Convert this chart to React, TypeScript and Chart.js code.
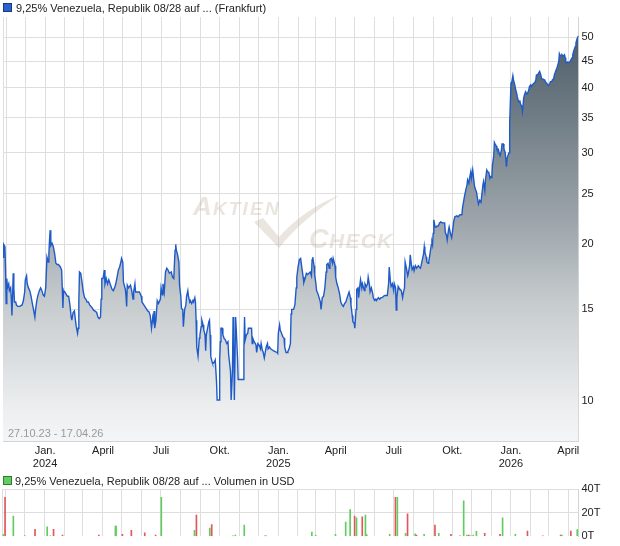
import React, { useEffect, useRef } from "react";
import { Chart, registerables } from "chart.js";

Chart.register(...registerables);

// Quote window: 27.10.2023 - 17.04.2026
const FIRST_DATE = Date.UTC(2023, 9, 27);
const LAST_DATE = Date.UTC(2026, 3, 17);
const DAY_MS = 86400000;
const RANGE_DAYS = (LAST_DATE - FIRST_DATE) / DAY_MS;

const legendTitle = "9,25% Venezuela, Republik 08/28 auf ... (Frankfurt)";
const volumeTitle = "9,25% Venezuela, Republik 08/28 auf ... Volumen in USD";
const periodLabel = "27.10.23 - 17.04.26";

// Price quotes: days counted from 27.10.2023, and closing price
const priceDays = [
  0, 1, 3, 4, 5, 6, 7, 9, 10, 12, 13, 14, 15, 16, 17, 18, 20, 21, 23, 26, 30, 32, 34, 35, 37, 38, 40, 42, 44, 46,
  48, 50, 51, 53, 55, 57, 59, 61, 63, 65, 67, 69, 71, 72, 73, 74, 75, 77, 79, 81, 83, 85, 87, 90, 92, 93, 94, 95, 97, 101,
  103, 105, 107, 108, 110, 112, 114, 115, 117, 118, 119, 120, 122, 124, 126, 128, 130, 132, 134, 136, 138, 140, 142, 144, 147, 149, 151, 153, 154, 155,
  157, 159, 160, 162, 164, 166, 168, 171, 173, 175, 177, 179, 181, 183, 185, 186, 188, 189, 192, 193, 194, 195, 197, 200, 202, 204, 205, 207, 208, 210,
  212, 214, 217, 218, 221, 224, 227, 229, 231, 233, 235, 236, 237, 238, 240, 242, 244, 247, 248, 250, 251, 253, 255, 257, 259, 261, 264, 266, 268, 269,
  270, 271, 272, 274, 276, 277, 279, 280, 282, 283, 285, 287, 288, 290, 291, 293, 294, 296, 298, 299, 301, 302, 303, 304, 306, 308, 309, 311, 312, 314,
  315, 317, 318, 319, 321, 323, 324, 325, 326, 328, 329, 331, 333, 335, 336, 339, 340, 341, 342, 344, 345, 347, 349, 351, 353, 354, 355, 357, 358, 359,
  360, 361, 362, 363, 364, 365, 366, 368, 369, 372, 375, 377, 378, 379, 380, 382, 384, 385, 388, 390, 391, 392, 394, 396, 397, 398, 400, 402, 404, 405,
  407, 408, 410, 412, 413, 415, 416, 418, 420, 422, 424, 427, 430, 431, 432, 434, 435, 437, 439, 441, 442, 444, 446, 447, 449, 451, 452, 453, 456, 458,
  460, 461, 463, 465, 467, 469, 471, 472, 474, 476, 478, 480, 482, 484, 485, 486, 488, 489, 491, 492, 494, 496, 498, 499, 501, 503, 505, 507, 508, 510,
  512, 513, 515, 517, 518, 521, 522, 524, 526, 528, 530, 532, 534, 536, 538, 540, 543, 545, 546, 548, 549, 551, 552, 554, 555, 557, 558, 560, 561, 563,
  564, 567, 568, 570, 572, 573, 575, 576, 578, 580, 581, 583, 585, 586, 589, 591, 593, 595, 597, 599, 601, 603, 605, 606, 608, 609, 611, 613, 614, 616,
  617, 618, 620, 621, 623, 625, 627, 628, 630, 631, 633, 635, 636, 638, 639, 641, 642, 644, 645, 647, 649, 650, 652, 653, 655, 656, 658, 660, 661, 662,
  664, 665, 667, 668, 670, 672, 673, 674, 675, 676, 678, 680, 681, 683, 685, 687, 689, 691, 693, 694, 696, 697, 699, 700, 702, 704, 706, 707, 709, 712,
  714, 717, 720, 721, 723, 724, 726, 728, 729, 731, 732, 734, 735, 737, 739, 740, 742, 743, 745, 746, 748, 750, 751, 753, 754, 756, 757, 759, 761, 762,
  764, 765, 767, 768, 770, 771, 772, 774, 775, 777, 779, 780, 782, 783, 785, 786, 788, 790, 791, 793, 794, 795, 797, 798, 800, 801, 803, 804, 806, 807,
  809, 811, 812, 814, 815, 817, 818, 820, 822, 823, 825, 826, 828, 829, 831, 833, 834, 836, 837, 839, 840, 842, 844, 845, 847, 848, 850, 851, 853, 855,
  856, 858, 859, 861, 862, 864, 865, 867, 869, 870, 872, 873, 874, 876, 877, 879, 881, 882, 883, 885, 886, 888, 890, 891, 893, 894, 896, 898, 899, 901,
  903,
];
const priceValues = [
  18.9, 20.0, 19.8, 17.85, 15.4, 17.2, 16.5, 16.8, 16.3, 16.5, 15.8, 14.6, 15.8, 17.6, 16.5, 15.5, 15.5, 15.3, 15.2, 15.2, 15.3, 15.6, 16.2, 17.1, 17.4, 16.8, 16.5, 16.3, 15.9, 15.4,
  14.95, 14.5, 14.95, 15.6, 16.0, 16.3, 16.5, 16.3, 16.0, 15.9, 16.5, 18.9, 18.5, 19.2, 20.4, 21.3, 19.9, 20.1, 19.8, 19.2, 18.4, 18.3, 18.3, 18.1, 17.85, 16.5, 15.1, 16.3, 16.2, 15.9,
  15.9, 15.3, 14.5, 14.3, 14.8, 14.9, 14.2, 13.9, 13.5, 13.8, 15.6, 17.7, 17.6, 16.9, 16.2, 15.8, 15.7, 15.5, 15.5, 15.3, 15.2, 15.1, 14.95, 14.9, 14.8, 14.5, 14.4, 14.5, 15.7, 17.2,
  17.2, 17.85, 16.8, 17.2, 16.8, 17.1, 16.8, 16.4, 16.3, 16.5, 16.8, 17.3, 17.85, 18.1, 18.5, 18.8, 18.5, 16.9, 16.4, 15.9, 15.2, 16.7, 16.5, 16.7, 16.3, 15.7, 16.2, 16.8, 16.2, 16.2,
  16.2, 16.2, 15.9, 15.5, 15.3, 15.1, 14.9, 14.85, 14.6, 13.8, 14.5, 14.3, 14.9, 13.8, 14.3, 15.6, 15.4, 15.7, 16.5, 16.0, 16.8, 16.2, 17.7, 18.0, 17.85, 17.6, 17.7, 17.3, 17.2, 18.4,
  19.5, 20.0, 19.5, 19.1, 18.5, 16.7, 15.9, 15.05, 15.0, 13.9, 15.0, 15.3, 15.9, 16.3, 15.9, 15.5, 15.6, 15.4, 15.6, 15.5, 15.8, 15.5, 14.3, 12.7, 12.2, 13.2, 13.4, 13.9, 14.3, 14.0,
  13.7, 13.4, 12.5, 13.4, 13.8, 14.2, 14.3, 13.4, 12.2, 11.9, 11.8, 11.85, 12.0, 10.9, 10.05, 10.05, 12.0, 13.0, 13.8, 13.8, 13.4, 13.2, 13.1, 12.9, 13.0, 12.3, 12.0, 11.4, 10.05, 10.05,
  11.4, 14.5, 13.0, 10.05, 10.05, 14.5, 13.7, 12.1, 11.0, 11.0, 11.0, 11.0, 12.6, 14.5, 13.1, 13.4, 13.5, 13.8, 13.8, 13.8, 12.9, 13.2, 13.0, 12.9, 12.8, 12.4, 12.9, 12.8, 12.6, 12.9,
  12.5, 12.45, 12.1, 12.5, 12.7, 12.9, 12.6, 12.7, 12.6, 12.55, 12.5, 12.45, 12.4, 12.35, 13.5, 14.0, 13.7, 13.5, 13.3, 13.2, 12.7, 12.4, 12.4, 12.45, 12.6, 12.9, 14.7, 15.0, 15.0, 15.3,
  16.5, 17.3, 18.1, 18.7, 18.8, 18.0, 17.3, 16.9, 17.2, 17.6, 17.5, 17.6, 17.7, 17.4, 18.7, 18.9, 18.2, 17.5, 16.8, 16.3, 16.1, 15.8, 15.5, 15.0, 15.8, 15.9, 16.5, 17.7, 18.3, 18.4,
  18.0, 18.7, 18.8, 18.4, 18.8, 18.2, 17.3, 16.8, 16.5, 16.1, 15.5, 15.3, 15.2, 15.4, 15.5, 15.8, 16.2, 15.8, 15.3, 14.6, 14.2, 14.1, 13.8, 15.0, 16.4, 16.5, 15.8, 16.7, 17.1, 16.5,
  16.8, 16.3, 16.8, 16.6, 16.8, 17.3, 16.7, 16.2, 16.5, 16.1, 15.8, 15.6, 15.7, 15.6, 15.8, 15.7, 15.8, 15.8, 15.9, 15.95, 15.95, 15.95, 16.8, 18.1, 16.9, 16.6, 16.8, 16.3, 16.8, 16.5,
  14.95, 15.8, 16.6, 16.5, 16.4, 16.3, 15.8, 16.1, 16.5, 18.5, 18.0, 17.4, 17.6, 18.2, 19.1, 18.2, 17.9, 18.1, 17.8, 18.2, 18.0, 18.1, 18.2, 18.1, 18.0, 18.2, 18.7, 19.2, 19.8, 19.3,
  18.9, 18.5, 18.4, 18.5, 19.2, 19.95, 20.2, 19.95, 21.0, 22.3, 21.6, 21.6, 21.7, 21.7, 22.0, 22.1, 22.0, 22.0, 22.0, 21.1, 20.8, 20.4, 21.3, 21.6, 21.0, 20.6, 21.5, 22.1, 22.6, 22.7,
  22.6, 22.8, 22.8, 23.5, 24.3, 24.7, 25.4, 26.0, 26.6, 26.2, 26.8, 27.6, 26.8, 27.8, 26.4, 25.8, 25.4, 25.2, 24.3, 23.9, 24.3, 24.1, 24.7, 26.0, 26.4, 25.4, 26.6, 27.8, 27.5, 27.6,
  26.8, 27.0, 26.9, 28.4, 29.6, 31.4, 31.2, 30.9, 30.5, 30.5, 29.8, 29.6, 30.3, 31.2, 31.2, 30.5, 30.0, 28.2, 29.3, 29.8, 30.0, 34.2, 40.8, 40.8, 42.2, 41.4, 40.5, 39.9, 39.0, 38.4,
  37.6, 37.7, 37.2, 36.8, 36.0, 38.2, 38.7, 39.3, 38.9, 39.0, 39.6, 40.2, 40.5, 40.2, 40.6, 40.8, 40.8, 41.4, 42.3, 42.4, 42.6, 43.0, 42.3, 41.6, 41.6, 41.5, 41.4, 41.1, 40.8, 40.5,
  40.4, 40.8, 41.1, 41.1, 41.4, 41.6, 42.3, 43.0, 43.6, 44.0, 44.9, 46.5, 46.2, 46.0, 46.3, 46.0, 46.3, 45.7, 44.7, 44.7, 44.8, 44.7, 45.0, 45.0, 45.7, 46.3, 47.3, 48.0, 48.8, 49.8,
  50.3,
];

// Turnover in thousand USD, with the day it was traded and whether the day closed up (1) or down (0)
const volumeDays = [
  1, 4, 17, 35, 51, 70, 75, 80, 94, 151, 177, 178, 188, 202, 223, 240, 249, 301, 304, 325, 328, 361, 365, 379, 411,
  413, 485, 491, 522, 538, 545, 552, 555, 564, 569, 571, 607, 616, 619, 632, 635, 647, 649, 661, 678, 684, 703, 717, 723, 728,
  731, 734, 738, 743, 756, 780, 784, 804, 823, 847, 875, 877, 891, 901,
];
const volumeValues = [
  1.7, 33, 17, 0.3, 6, 8, 0.4, 6, 1, 1, 8.7, 8.7, 1.7, 5, 3, 1, 33, 5, 18, 7, 10, 0.5, 1, 9.5, 0.4,
  0.4, 3.5, 0.8, 1.7, 12, 22.6, 17, 15.6, 16.5, 18, 1.5, 1.7, 33, 33, 2.6, 19, 2, 1, 1.7, 9.5, 2.6, 1.7, 0.4, 30, 1,
  1, 0.5, 1, 4.3, 2.6, 1.7, 15.6, 1.7, 4.5, 0.4, 1, 1, 4.5, 5.6,
];
const volumeUp = [
  1, 0, 1, 0, 0, 1, 1, 0, 0, 0, 1, 1, 0, 0, 0, 0, 1, 1, 0, 1, 0, 1, 1, 1, 1,
  0, 1, 1, 1, 1, 1, 0, 1, 0, 1, 1, 1, 0, 1, 1, 0, 1, 0, 1, 0, 1, 0, 0, 1, 1,
  0, 1, 1, 1, 0, 0, 1, 1, 0, 0, 0, 1, 0, 1,
];

const priceTicks = [10, 15, 20, 25, 30, 35, 40, 45, 50];
const volumeTicks = [0, 20, 40];
const quarterNames: Record<number, string> = { 0: "Jan.", 3: "April", 6: "Juli", 9: "Okt." };

const FONT = '"Liberation Sans", Arial, Helvetica, sans-serif';
const GRID = "#dedede";
const AXIS = "#d4d4d4";
const TEXT = "#222222";
const LINE = "#1f5bc8";
const UP = "#62cc62";
const DOWN = "#e05858";

// Month starts as x-axis ticks; quarters get a label, January also the year
type MonthTick = { value: number; label: string | string[] };
const monthTicks: MonthTick[] = (() => {
  const out: MonthTick[] = [{ value: 0, label: "" }];
  for (let y = 2023; y <= 2026; y++) {
    for (let m = 0; m < 12; m++) {
      const d = (Date.UTC(y, m, 1) - FIRST_DATE) / DAY_MS;
      if (d <= 0 || d > RANGE_DAYS) continue;
      const name = quarterNames[m];
      out.push({ value: d, label: m === 0 ? [name, String(y)] : name ?? "" });
    }
  }
  return out;
})();
const monthLabel = new Map(monthTicks.map((t) => [t.value, t.label]));

function drawWord(
  ctx: CanvasRenderingContext2D,
  first: string,
  rest: string,
  x: number,
  y: number,
  bigSize: number,
  smallSize: number,
  spacing: number
) {
  ctx.font = `italic bold ${bigSize}px ${FONT}`;
  ctx.fillText(first, x, y);
  let cx = x + ctx.measureText(first).width + spacing * 0.5;
  ctx.font = `italic bold ${smallSize}px ${FONT}`;
  for (const ch of rest) {
    ctx.fillText(ch, cx, y);
    cx += ctx.measureText(ch).width + spacing;
  }
}

const watermarkPlugin = {
  id: "watermark",
  beforeDatasetsDraw(chart: Chart) {
    const ctx = chart.ctx;
    ctx.save();
    ctx.fillStyle = "rgba(185,170,150,0.3)";
    ctx.beginPath();
    ctx.moveTo(254, 222);
    ctx.lineTo(263, 218);
    ctx.lineTo(279, 237);
    ctx.quadraticCurveTo(304, 209, 340, 195);
    ctx.quadraticCurveTo(302, 219, 279, 248);
    ctx.closePath();
    ctx.fill();
    ctx.textBaseline = "alphabetic";
    drawWord(ctx, "A", "KTIEN", 193, 215, 26, 19, 2.2);
    drawWord(ctx, "C", "HECK", 309, 248, 27, 21, 1.2);
    ctx.restore();
  },
};

const priceHeaderPlugin = {
  id: "priceHeader",
  afterDraw(chart: Chart) {
    const ctx = chart.ctx;
    ctx.save();
    ctx.fillStyle = "#2a62cc";
    ctx.fillRect(3, 3, 9, 9);
    ctx.strokeStyle = "#173a80";
    ctx.lineWidth = 1;
    ctx.strokeRect(3.5, 3.5, 8, 8);
    ctx.font = `11px ${FONT}`;
    ctx.textBaseline = "alphabetic";
    ctx.fillStyle = TEXT;
    ctx.fillText(legendTitle, 16, 11.5);
    ctx.fillStyle = "#9a9a9a";
    ctx.fillText(periodLabel, 8, 437);
    ctx.restore();
  },
};

const volumeHeaderPlugin = {
  id: "volumeHeader",
  afterDraw(chart: Chart) {
    const ctx = chart.ctx;
    ctx.save();
    ctx.fillStyle = UP;
    ctx.fillRect(3, 6, 9, 9);
    ctx.strokeStyle = "#2f7d2f";
    ctx.lineWidth = 1;
    ctx.strokeRect(3.5, 6.5, 8, 8);
    ctx.font = `11px ${FONT}`;
    ctx.textBaseline = "alphabetic";
    ctx.fillStyle = TEXT;
    ctx.fillText(volumeTitle, 15, 14.5);
    ctx.restore();
  },
};

function areaGradient(context: any) {
  const chart = context.chart;
  const area = chart.chartArea;
  if (!area) return "rgba(0,0,0,0)";
  const g = chart.ctx.createLinearGradient(0, area.top, 0, area.bottom);
  g.addColorStop(0, "rgb(70,85,96)");
  g.addColorStop(0.047, "rgb(78,94,105)");
  g.addColorStop(0.488, "rgb(158,166,172)");
  g.addColorStop(0.667, "rgb(197,202,205)");
  g.addColorStop(0.92, "rgb(236,238,239)");
  g.addColorStop(1, "rgb(244,245,246)");
  return g;
}

function makePriceChart(canvas: HTMLCanvasElement) {
  return new Chart(canvas, {
    type: "line",
    data: {
      datasets: [
        {
          data: priceDays.map((d, i) => ({ x: d, y: priceValues[i] })),
          borderColor: LINE,
          borderWidth: 1.4,
          pointRadius: 0,
          tension: 0,
          fill: "start",
          backgroundColor: areaGradient,
        },
      ],
    },
    options: {
      responsive: false,
      animation: false,
      events: [],
      layout: { padding: { top: 17, left: 2.5, right: 0, bottom: 0 } },
      plugins: { legend: { display: false }, tooltip: { enabled: false } },
      scales: {
        x: {
          type: "linear",
          min: 0,
          max: RANGE_DAYS,
          afterBuildTicks: (s: any) => {
            s.ticks = monthTicks.map((t) => ({ value: t.value }));
          },
          afterFit: (s: any) => {
            s.height = 29;
          },
          grid: { color: GRID, lineWidth: 1, drawTicks: false },
          border: { display: true, color: AXIS },
          ticks: {
            autoSkip: false,
            maxRotation: 0,
            minRotation: 0,
            padding: 3,
            color: TEXT,
            font: { family: FONT, size: 11, lineHeight: 1.2 },
            callback: (v: any) => monthLabel.get(Number(v)) ?? "",
          },
        },
        y: {
          type: "logarithmic",
          position: "right",
          min: 8.38,
          max: 54.7,
          afterBuildTicks: (s: any) => {
            s.ticks = priceTicks.map((v) => ({ value: v }));
          },
          afterFit: (s: any) => {
            s.width = 41.5;
          },
          grid: { color: GRID, lineWidth: 1, drawTicks: false },
          border: { display: true, color: AXIS },
          ticks: {
            padding: 3,
            color: TEXT,
            font: { family: FONT, size: 11 },
            callback: (v: any) => String(v),
          },
        },
      },
    },
    plugins: [watermarkPlugin, priceHeaderPlugin],
  } as any);
}

function makeVolumeChart(canvas: HTMLCanvasElement) {
  return new Chart(canvas, {
    type: "bar",
    data: {
      datasets: [
        {
          data: volumeDays.map((d, i) => ({ x: d, y: volumeValues[i] })),
          backgroundColor: volumeUp.map((u) => (u ? UP : DOWN)),
          borderWidth: 0,
          barThickness: 1,
        },
      ],
    },
    options: {
      responsive: false,
      animation: false,
      events: [],
      layout: { padding: { top: 19, left: 2.5, right: 0, bottom: 9.7 } },
      plugins: { legend: { display: false }, tooltip: { enabled: false } },
      scales: {
        x: {
          type: "linear",
          min: 0,
          max: RANGE_DAYS,
          offset: false,
          afterBuildTicks: (s: any) => {
            s.ticks = monthTicks.map((t) => ({ value: t.value }));
          },
          afterFit: (s: any) => {
            s.height = 0;
          },
          grid: { color: GRID, lineWidth: 1, drawTicks: false, offset: false },
          border: { display: false },
          ticks: { display: false },
        },
        y: {
          position: "right",
          min: 0,
          max: 40,
          afterBuildTicks: (s: any) => {
            s.ticks = volumeTicks.map((v) => ({ value: v }));
          },
          afterFit: (s: any) => {
            s.width = 41.5;
          },
          grid: {
            color: (c: any) => (c.tick && c.tick.value === 0 ? "rgba(0,0,0,0)" : GRID),
            lineWidth: 1,
            drawTicks: false,
          },
          border: { display: true, color: AXIS },
          ticks: {
            padding: 3,
            color: TEXT,
            font: { family: FONT, size: 11 },
            callback: (v: any) => `${v}T`,
          },
        },
      },
    },
    plugins: [volumeHeaderPlugin],
  } as any);
}

export default function App() {
  const priceRef = useRef<HTMLCanvasElement>(null);
  const volumeRef = useRef<HTMLCanvasElement>(null);

  useEffect(() => {
    if (!priceRef.current || !volumeRef.current) return;
    const charts = [makePriceChart(priceRef.current), makeVolumeChart(volumeRef.current)];
    return () => charts.forEach((c) => c.destroy());
  }, []);

  return (
    <div style={{ position: "absolute", left: 0, top: 0, width: 620, height: 546, background: "#ffffff" }}>
      <canvas
        ref={priceRef}
        width={620}
        height={470}
        style={{ position: "absolute", left: 0, top: 0, width: 620, height: 470 }}
      />
      <canvas
        ref={volumeRef}
        width={620}
        height={76}
        style={{ position: "absolute", left: 0, top: 470, width: 620, height: 76 }}
      />
    </div>
  );
}
